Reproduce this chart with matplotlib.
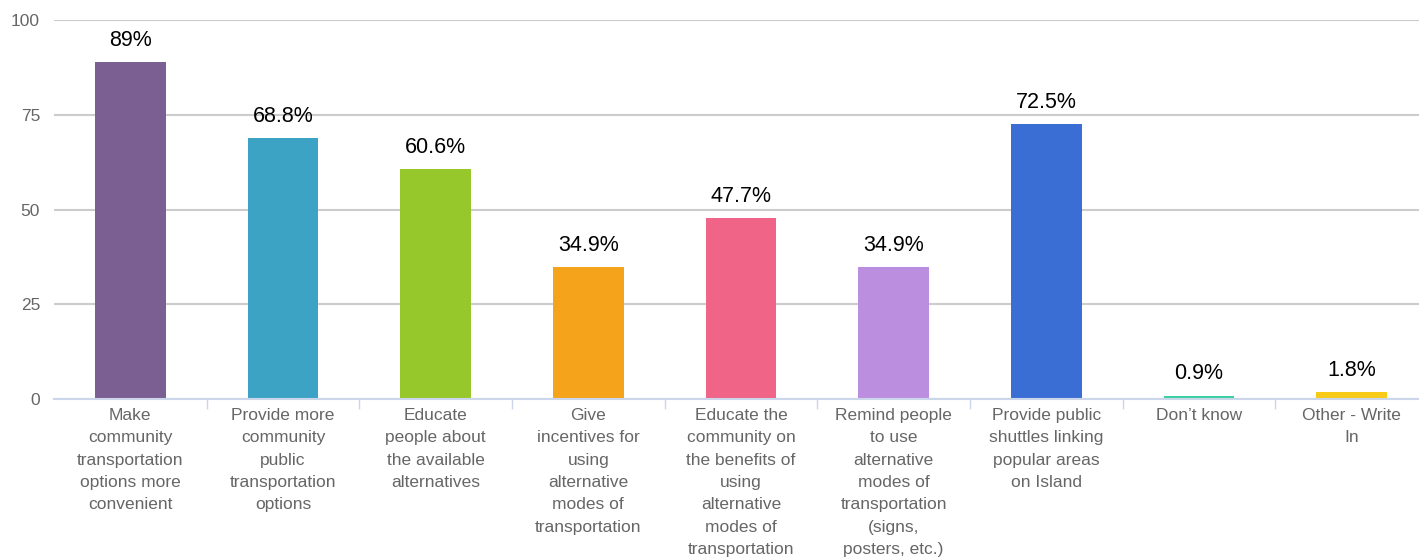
import matplotlib
matplotlib.use("Agg")
import matplotlib.pyplot as plt

categories = [
    "Make\ncommunity\ntransportation\noptions more\nconvenient",
    "Provide more\ncommunity\npublic\ntransportation\noptions",
    "Educate\npeople about\nthe available\nalternatives",
    "Give\nincentives for\nusing\nalternative\nmodes of\ntransportation",
    "Educate the\ncommunity on\nthe benefits of\nusing\nalternative\nmodes of\ntransportation",
    "Remind people\nto use\nalternative\nmodes of\ntransportation\n(signs,\nposters, etc.)",
    "Provide public\nshuttles linking\npopular areas\non Island",
    "Don’t know",
    "Other - Write\nIn",
]
values = [89, 68.8, 60.6, 34.9, 47.7, 34.9, 72.5, 0.9, 1.8]
value_labels = ["89%", "68.8%", "60.6%", "34.9%", "47.7%", "34.9%", "72.5%", "0.9%", "1.8%"]
colors = ["#7B5F93", "#3DA3C4", "#96C82B", "#F4A31B", "#F06487",
          "#BC8EE0", "#3B6ED4", "#3BD0A0", "#F7CB17"]
yticks = [0, 25, 50, 75, 100]

plt.rcParams['font.family'] = ['Liberation Sans', 'DejaVu Sans']

W, H = 1419, 560
fig = plt.figure(figsize=(W / 100, H / 100), dpi=100)
left, right, top, bottom = 54, 1428, 20, 399
ax = fig.add_axes([left / W, 1 - bottom / H, (right - left) / W, (bottom - top) / H])

x = list(range(len(categories)))
ax.bar(x, values, width=0.465, color=colors, zorder=3)
ax.set_xlim(-0.5, len(categories) - 0.5)
ax.set_ylim(0, 100)

for xi, v, lab in zip(x, values, value_labels):
    ax.annotate(lab, (xi, v), xytext=(0, 8), textcoords="offset points",
                ha="center", va="bottom", fontsize=15.5, color="#000000", zorder=4)

ax.set_yticks(yticks)
ax.set_yticklabels([str(t) for t in yticks], fontsize=12.5, color="#666666")
ax.yaxis.grid(True, color="#cccccc", linewidth=1.5, zorder=0)
ax.tick_params(axis="y", length=0, pad=10)

ax.set_xticks(x)
ax.set_xticklabels(categories, fontsize=12.5, color="#666666", linespacing=1.61, va="top")
ax.tick_params(axis="x", length=0, pad=6.5)
ax.set_xticks([i + 0.5 for i in range(len(categories) - 1)], minor=True)
ax.tick_params(axis="x", which="minor", length=7, color="#ccd6eb", width=1)

for s in ["top", "right", "left"]:
    ax.spines[s].set_visible(False)
ax.spines["bottom"].set_color("#ccd6eb")
ax.spines["bottom"].set_linewidth(1.5)
ax.spines["bottom"].set_zorder(5)

fig.savefig("out.png", dpi=100, facecolor="white")
